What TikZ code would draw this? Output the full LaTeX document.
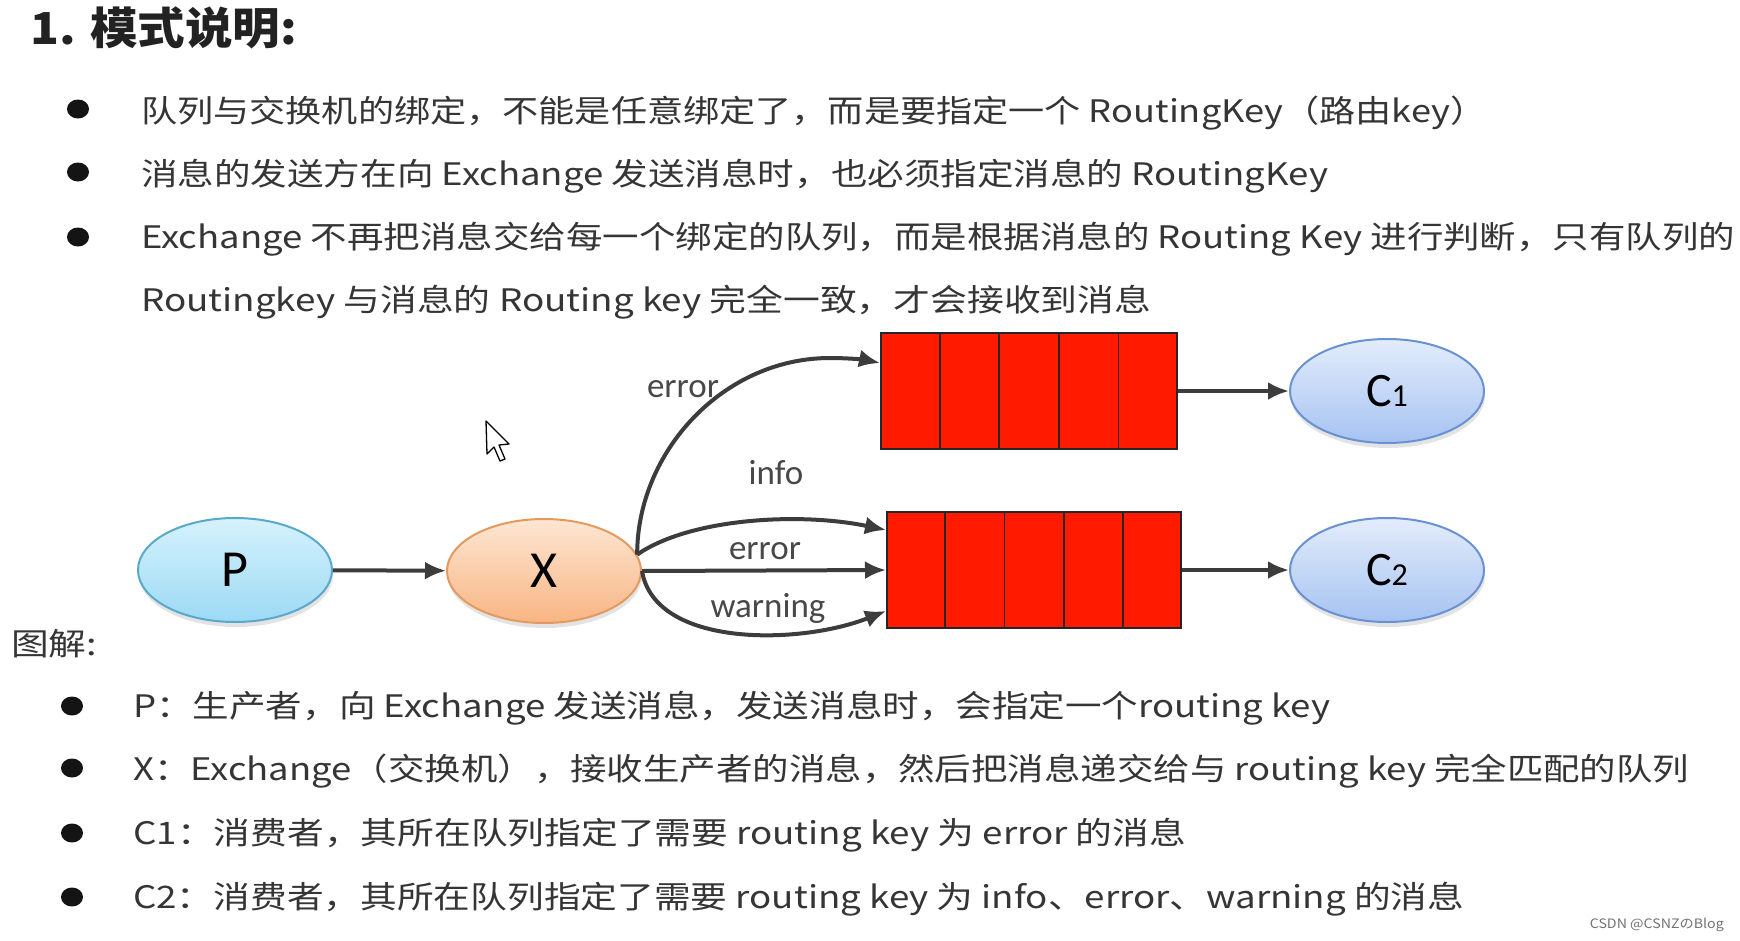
\documentclass[tikz,border=0pt]{standalone}
\usepackage{fontspec}
\usepackage{graphicx}
\setmainfont{Noto Sans CJK SC}
\newfontfamily\cjk{Noto Sans CJK SC}
\newfontfamily\carl{Carlito}
\usetikzlibrary{arrows.meta,calc,shadows,shapes.geometric}
\definecolor{txt}{HTML}{353535}
\definecolor{ttl}{HTML}{222222}
\definecolor{arr}{HTML}{3C3C3C}
\definecolor{lbl}{HTML}{484848}
\definecolor{qred}{HTML}{FF1A00}
\definecolor{pTop}{HTML}{D6F2FD}
\definecolor{pBot}{HTML}{9CDAF4}
\definecolor{pBd}{HTML}{5AA8CC}
\definecolor{xTop}{HTML}{FDE6D2}
\definecolor{xBot}{HTML}{F8B584}
\definecolor{xBd}{HTML}{E49A5E}
\definecolor{cTop}{HTML}{E3ECFB}
\definecolor{cBot}{HTML}{A6C3F2}
\definecolor{cBd}{HTML}{6A92D2}
\begin{document}
\begin{tikzpicture}[x=1pt,y=-1pt,
  textline/.style={anchor=base west, inner sep=0pt, text=txt, font=\cjk\fontsize{31}{31}\selectfont},
  bulletdot/.style={fill=black!92},
  oval/.style={ellipse, minimum width=194pt, minimum height=104pt, line width=2pt, inner sep=0pt,
     drop shadow={shadow xshift=1pt, shadow yshift=-5pt, opacity=0.22}},
  queue/.style={rectangle, draw=black!85, fill=qred, line width=2pt, minimum width=296pt, minimum height=116pt, inner sep=0pt},
  qline/.style={draw=black!85, line width=1.8pt},
  conn/.style={draw=arr, line width=4pt, -{Latex[length=21pt,width=18pt]}},
  edgelabel/.style={inner sep=0pt, text=lbl, font=\carl\fontsize{35}{35}\selectfont}
]
\useasboundingbox[fill=white] (0,0) rectangle (1740,940);

% title
\node[anchor=base west, inner sep=0pt, text=ttl, font=\cjk\bfseries\fontsize{44}{44}\selectfont] (title) at (30,44) {\resizebox{267pt}{\height}{1. 模式说明:}};

% upper bullets
\fill[bulletdot] (78,109) ellipse (11 and 9.5);
\fill[bulletdot] (78,172) ellipse (11 and 9.5);
\fill[bulletdot] (78,237) ellipse (11 and 9.5);
\node[textline] (l1) at (141,122) {\resizebox{1345pt}{\height}{队列与交换机的绑定，不能是任意绑定了，而是要指定一个 RoutingKey（路由key）}};
\node[textline] (l2) at (141,185) {\resizebox{1187pt}{\height}{消息的发送方在向 Exchange 发送消息时，也必须指定消息的 RoutingKey}};
\node[textline] (l3) at (141,248) {\resizebox{1594pt}{\height}{Exchange 不再把消息交给每一个绑定的队列，而是根据消息的 Routing Key 进行判断，只有队列的}};
\node[textline] (l4) at (141,311) {\resizebox{1010pt}{\height}{Routingkey 与消息的 Routing key 完全一致，才会接收到消息}};

% diagram nodes
\node[oval, top color=pTop, bottom color=pBot, draw=pBd] (P) at (235,570) {\carl\fontsize{52}{52}\selectfont P};
\node[oval, top color=xTop, bottom color=xBot, draw=xBd] (X) at (544,571) {\carl\fontsize{52}{52}\selectfont X};
\node[queue] (Q1) at (1029,391) {};
\node[queue, minimum width=294pt] (Q2) at (1034,570) {};
\foreach \q in {Q1,Q2}{
  \foreach \i in {1,...,4}{
    \draw[qline] ($(\q.north west)!\i/5!(\q.north east)$) -- ($(\q.south west)!\i/5!(\q.south east)$);
  }
}
\node[oval, top color=cTop, bottom color=cBot, draw=cBd] (C1) at (1387,391) {\carl\fontsize{48}{48}\selectfont C\fontsize{32}{32}\selectfont 1};
\node[oval, top color=cTop, bottom color=cBot, draw=cBd] (C2) at (1387,570) {\carl\fontsize{48}{48}\selectfont C\fontsize{32}{32}\selectfont 2};

\coordinate (q1in) at ($(Q1.north west)+(0,31)$);
\coordinate (q2top) at ($(Q2.north west)+(0,19)$);
\coordinate (q2bot) at ($(Q2.north west)+(0,100)$);
\coordinate (xs) at (X.10);

% connectors
\draw[conn] (P) -- (X);
\draw[conn] (X.east) -- (Q2.west);
\draw[conn] (xs) .. controls (637,452) and (723,358) .. (830,358) .. controls (850,358) and (866,360) .. (q1in);
\draw[conn] (xs) .. controls (690,518) and (800,512) .. (q2top);
\draw[conn] (X.east) .. controls (655,648) and (800,645) .. (q2bot);
\draw[conn] (Q1) -- (C1);
\draw[conn] (Q2) -- (C2);

% edge labels
\node[edgelabel] (le1) at (683,389) {error};
\node[edgelabel] (li) at (776,473) {info};
\node[edgelabel] (le2) at (765,551) {error};
\node[edgelabel] (lw) at (768,608) {warning};

% mouse cursor
\draw[fill=white, draw=black, line width=1.3pt, line join=round] (486,421) -- (487,454) -- (494,447) -- (500,461) -- (505,459) -- (499,445) -- (509,444) -- cycle;

% lower section
\node[anchor=base west, inner sep=0pt, text=txt, font=\cjk\fontsize{31}{31}\selectfont] (tj) at (11,655) {\resizebox{86pt}{\height}{图解:}};
\fill[bulletdot] (72,706) ellipse (11 and 9.5);
\fill[bulletdot] (72,768) ellipse (11 and 9.5);
\fill[bulletdot] (72,833) ellipse (11 and 9.5);
\fill[bulletdot] (72,897) ellipse (11 and 9.5);
\node[textline] (m1) at (133,717) {\resizebox{1197pt}{\height}{P：生产者，向 Exchange 发送消息，发送消息时，会指定一个routing key}};
\node[textline] (m2) at (133,780) {\resizebox{1556pt}{\height}{X：Exchange（交换机），接收生产者的消息，然后把消息递交给与 routing key 完全匹配的队列}};
\node[textline] (m3) at (133,844) {\resizebox{1053pt}{\height}{C1：消费者，其所在队列指定了需要 routing key 为 error 的消息}};
\node[textline] (m4) at (133,908) {\resizebox{1331pt}{\height}{C2：消费者，其所在队列指定了需要 routing key 为 info、error、warning 的消息}};

% watermark
\node[anchor=base east, inner sep=0pt, text=black!55, font=\cjk\fontsize{13}{13}\selectfont] (wm) at (1724,928) {\resizebox{134pt}{\height}{CSDN @CSNZのBlog}};
\end{tikzpicture}
\end{document}
